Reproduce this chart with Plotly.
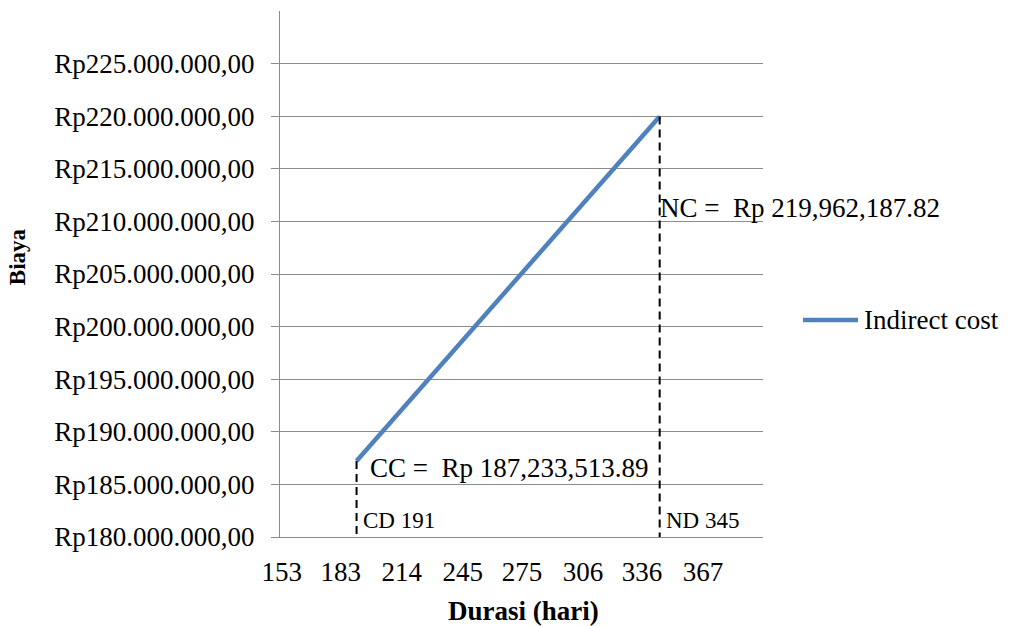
import plotly.graph_objects as go

# Indirect cost: crash duration (CD) vs normal duration (ND)
durasi = [191, 345]
biaya = [187233513.89, 219962187.82]
titik_label = ["CC", "NC"]
durasi_label = ["CD", "ND"]

x_ticks = [153, 183, 214, 245, 275, 306, 336, 367]
y_ticks = [180e6 + 5e6 * i for i in range(10)]

BLUE = "#4F81BD"
GRID = "#8C8C8C"
FONT = "Liberation Serif"
SIZE = 27


def rupiah_id(v):
    s = f"{v:,.2f}"
    return "Rp" + s.replace(",", "_").replace(".", ",").replace("_", ".")


fig = go.Figure()

fig.add_trace(go.Scatter(
    x=durasi, y=biaya, mode="lines", name="Indirect cost",
    line=dict(color=BLUE, width=4.5), showlegend=False,
))

# dashed drop lines from each end point down to the axis
for d, b in zip(durasi, biaya):
    fig.add_shape(type="line", xref="x", yref="y", x0=d, x1=d, y0=b, y1=179.6e6,
                  line=dict(color="black", width=2, dash="8px,5px"))

# value labels
fig.add_annotation(x=durasi[0], y=biaya[0], xref="x", yref="y",
                   text=f"{titik_label[0]} =&nbsp; Rp {biaya[0]:,.2f}",
                   xanchor="left", yanchor="middle", xshift=11, yshift=-7,
                   showarrow=False, font=dict(family=FONT, size=SIZE, color="black"))
fig.add_annotation(x=durasi[1], y=biaya[1], xref="x", yref="y",
                   text=f"{titik_label[1]} =&nbsp; Rp {biaya[1]:,.2f}",
                   xanchor="left", yanchor="middle", xshift=-2, yshift=-91,
                   showarrow=False, font=dict(family=FONT, size=SIZE, color="black"))
for lab, d in zip(durasi_label, durasi):
    fig.add_annotation(x=d, y=180e6, xref="x", yref="y",
                       text=f"{lab} {d}", xanchor="left", yanchor="middle",
                       xshift=4, yshift=17, showarrow=False,
                       font=dict(family=FONT, size=23, color="black"))

# axis titles
fig.add_annotation(x=0.505, y=-0.141, xref="paper", yref="paper",
                   text="<b>Durasi (hari)</b>", showarrow=False,
                   xanchor="center", yanchor="middle",
                   font=dict(family=FONT, size=27, color="black"))
fig.add_annotation(x=-0.5445, y=0.532, xref="paper", yref="paper",
                   text="<b>Biaya</b>", showarrow=False, textangle=-90,
                   xanchor="center", yanchor="middle",
                   font=dict(family=FONT, size=23, color="black"))

# legend
fig.add_shape(type="line", xref="paper", yref="paper",
              x0=1.0828, x1=1.1967, y0=0.4125, y1=0.4125,
              line=dict(color=BLUE, width=4.5))
fig.add_annotation(x=1.205, y=0.4125, xref="paper", yref="paper",
                   text="Indirect cost", showarrow=False,
                   xanchor="left", yanchor="middle",
                   font=dict(family=FONT, size=SIZE, color="black"))

fig.update_layout(
    width=1013, height=626,
    margin=dict(l=280, r=250, t=11, b=89),
    paper_bgcolor="white", plot_bgcolor="white",
    font=dict(family=FONT, size=SIZE, color="black"),
    showlegend=False,
    xaxis=dict(
        range=[152.1, 397.5], tickmode="array", tickvals=x_ticks,
        ticktext=[str(t) for t in x_ticks], showgrid=False, zeroline=False,
        showline=True, linecolor=GRID, linewidth=1, ticks="",
        ticklabelstandoff=11, tickfont=dict(family=FONT, size=SIZE, color="black"),
    ),
    yaxis=dict(
        range=[180e6, 230e6], tickmode="array", tickvals=y_ticks,
        ticktext=[rupiah_id(v) for v in y_ticks], showgrid=True,
        gridcolor=GRID, gridwidth=1, zeroline=False,
        showline=True, linecolor=GRID, linewidth=1,
        ticks="outside", ticklen=8, tickcolor=GRID, tickwidth=1,
        ticklabelstandoff=11, tickfont=dict(family=FONT, size=SIZE, color="black"),
    ),
)

fig.write_html("out.html")
